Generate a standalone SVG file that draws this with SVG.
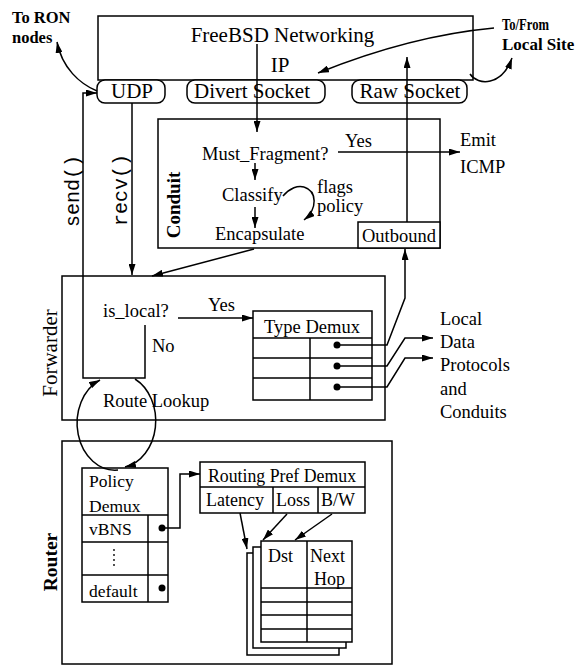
<svg xmlns="http://www.w3.org/2000/svg" width="579" height="667" viewBox="0 0 579 667">
<style>
.t{font-family:"Liberation Serif","Times New Roman",serif;font-size:18.5px;fill:#000}
.b{font-weight:bold}
.m{font-family:"Liberation Mono","Courier New",monospace;font-size:20px;fill:#000}
.c{text-anchor:middle}
.bx{fill:none;stroke:#000;stroke-width:1.5}
.wb{fill:#fff;stroke:#000;stroke-width:1.5}
.ln{fill:none;stroke:#000;stroke-width:1.5}
.ar{marker-end:url(#ah)}
.dot{fill:#000}
</style>
<defs>
<marker id="ah" markerUnits="userSpaceOnUse" markerWidth="11" markerHeight="7" refX="11" refY="3.5" orient="auto">
<path d="M0,0 L11,3.5 L0,7 z" fill="#000"/>
</marker>
</defs>
<rect width="579" height="667" fill="#fff"/>

<g id="freebsd">
<rect class="bx" x="98" y="16" width="375" height="64"/>
<text class="t c" x="282.5" y="42" style="font-size:21px">FreeBSD Networking</text>
<text class="t c" x="280" y="72" style="font-size:21px">IP</text>
</g>
<g id="udp">
<rect class="wb" x="97" y="80" width="68" height="23" rx="8"/>
<text class="t c" x="132" y="98" style="font-size:21px">UDP</text>
</g>
<g id="divert">
<rect class="wb" x="187" y="80" width="138" height="23" rx="8"/>
<text class="t c" x="252" y="98" style="font-size:21px">Divert Socket</text>
</g>
<g id="raw">
<rect class="wb" x="352" y="80" width="115" height="23" rx="8"/>
<text class="t c" x="410" y="98" style="font-size:21px">Raw Socket</text>
</g>

<g id="labels">
<text class="t b" x="12" y="23" style="font-size:16.5px">To RON</text>
<text class="t b" x="12" y="43" style="font-size:16.5px">nodes</text>
<text class="t b" x="502" y="30" style="font-size:17px" textLength="47" lengthAdjust="spacingAndGlyphs">To/From</text>
<text class="t b" x="502" y="50" style="font-size:17px">Local Site</text>
<text class="t" x="460" y="146">Emit</text>
<text class="t" x="460" y="173">ICMP</text>
<text class="t" x="440" y="325">Local</text>
<text class="t" x="440" y="348">Data</text>
<text class="t" x="440" y="371">Protocols</text>
<text class="t" x="440" y="395">and</text>
<text class="t" x="440" y="418">Conduits</text>
<text class="m c" transform="translate(79,191) rotate(-90)">send()</text>
<text class="m c" transform="translate(127,190) rotate(-90)">recv()</text>
</g>

<g id="conduit">
<rect class="bx" x="158" y="119" width="282" height="129"/>
<text class="t b c" transform="translate(180,205) rotate(-90)" style="font-size:19px">Conduit</text>
<text class="t" x="202" y="160">Must_Fragment?</text>
<text class="t" x="345" y="147">Yes</text>
<text class="t" x="222" y="201">Classify</text>
<text class="t" x="317" y="193">flags</text>
<text class="t" x="317" y="212">policy</text>
<text class="t" x="215" y="240">Encapsulate</text>
</g>
<g id="outbound">
<rect class="wb" x="358" y="222" width="82" height="26"/>
<text class="t c" x="399" y="242">Outbound</text>
</g>

<g id="forwarder">
<rect class="bx" x="62" y="276" width="323" height="144"/>
<text class="t c" transform="translate(57,353) rotate(-90)" style="font-size:21px">Forwarder</text>
<text class="t" x="103" y="317">is_local?</text>
<text class="t" x="208" y="311">Yes</text>
<text class="t" x="152" y="352">No</text>
<text class="t" x="103" y="407">Route Lookup</text>
</g>
<g id="typedemux">
<rect class="wb" x="253" y="311" width="119" height="89"/>
<path class="ln" d="M253 338 H372 M253 358 H372 M253 378 H372 M310 338 V400"/>
<text class="t c" x="312" y="333">Type Demux</text>
<circle class="dot" cx="337" cy="345" r="3.5"/>
<circle class="dot" cx="337" cy="366" r="3.5"/>
<circle class="dot" cx="337" cy="387" r="3.5"/>
</g>

<g id="router">
<rect class="bx" x="62" y="441" width="330" height="223"/>
<text class="t b c" transform="translate(57,562) rotate(-90)" style="font-size:19.5px">Router</text>
</g>
<g id="policydemux">
<rect class="wb" x="82" y="468" width="86" height="134"/>
<path class="ln" d="M82 515 H168 M82 542 H168 M82 575 H168 M148 515 V602"/>
<text class="t" x="89" y="487" style="font-size:17.5px">Policy</text>
<text class="t" x="89" y="512" style="font-size:17.5px">Demux</text>
<text class="t" x="89" y="535" style="font-size:17.5px">vBNS</text>
<text class="t" x="89" y="597" style="font-size:17.5px">default</text>
<circle class="dot" cx="114" cy="550" r="0.9"/>
<circle class="dot" cx="114" cy="555" r="0.9"/>
<circle class="dot" cx="114" cy="560" r="0.9"/>
<circle class="dot" cx="114" cy="565" r="0.9"/>
<circle class="dot" cx="162" cy="528" r="3.5"/>
<circle class="dot" cx="162" cy="588" r="3.5"/>
</g>
<g id="routingpref">
<rect class="wb" x="200" y="462" width="165" height="51"/>
<path class="ln" d="M200 487 H365 M273 487 V513 M318 487 V513"/>
<text class="t c" x="282" y="482" style="font-size:17.8px">Routing Pref Demux</text>
<text class="t" x="206" y="506" style="font-size:18px">Latency</text>
<text class="t" x="276" y="506" style="font-size:18px">Loss</text>
<text class="t" x="321" y="506" style="font-size:18px">B/W</text>
</g>
<g id="routetables">
<rect class="wb" x="247" y="553" width="92" height="102"/>
<rect class="wb" x="253" y="547" width="93" height="101"/>
<rect class="wb" x="261" y="541" width="91" height="101"/>
<path class="ln" d="M307 541 V642 M261 588 H352 M261 602 H352 M261 615 H352 M261 629 H352"/>
<text class="t" x="268" y="562" style="font-size:18px">Dst</text>
<text class="t" x="310" y="562" style="font-size:18px">Next</text>
<text class="t" x="314" y="585" style="font-size:18px">Hop</text>
</g>

<g id="connectors">
<path class="ln ar" d="M97 91 C80 84 62 68 57 42"/>
<path class="ln ar" d="M494 28 C440 33 380 48 318 73"/>
<path class="ln ar" d="M470 74 C478 86 502 86 512 58"/>
<path class="ln ar" d="M257 44 V132"/>
<path class="ln ar" d="M407 222 V57"/>
<path class="ln ar" d="M255 163 V180"/>
<path class="ln ar" d="M255 207 V228"/>
<path class="ln ar" d="M338 152 H460"/>
<path class="ln ar" d="M283 196 C290 188 298 185 304 187 C317 191 318 209 304 220"/>
<path class="ln ar" d="M254 249 L152 276"/>
<path class="ln ar" d="M145 325 V378 H83 V93 H97"/>
<path class="ln ar" d="M132 103 V275"/>
<path class="ln ar" d="M178 318 H253"/>
<path class="ln ar" d="M337 345 H387 L405 298 V249"/>
<path class="ln ar" d="M337 366 H387 L405 338 H433"/>
<path class="ln ar" d="M337 387 H387 L405 358 H433"/>
<path class="ln ar" d="M118 470 A38 47 0 0 1 100 380"/>
<path class="ln ar" d="M135 379 A38 47 0 0 1 125 467"/>
<path class="ln ar" d="M162 528 H180 V474 H200"/>
<path class="ln ar" d="M240 513 L247 549"/>
<path class="ln ar" d="M287 514 L263 540"/>
<path class="ln ar" d="M332 514 L295 540"/>
</g>
</svg>
